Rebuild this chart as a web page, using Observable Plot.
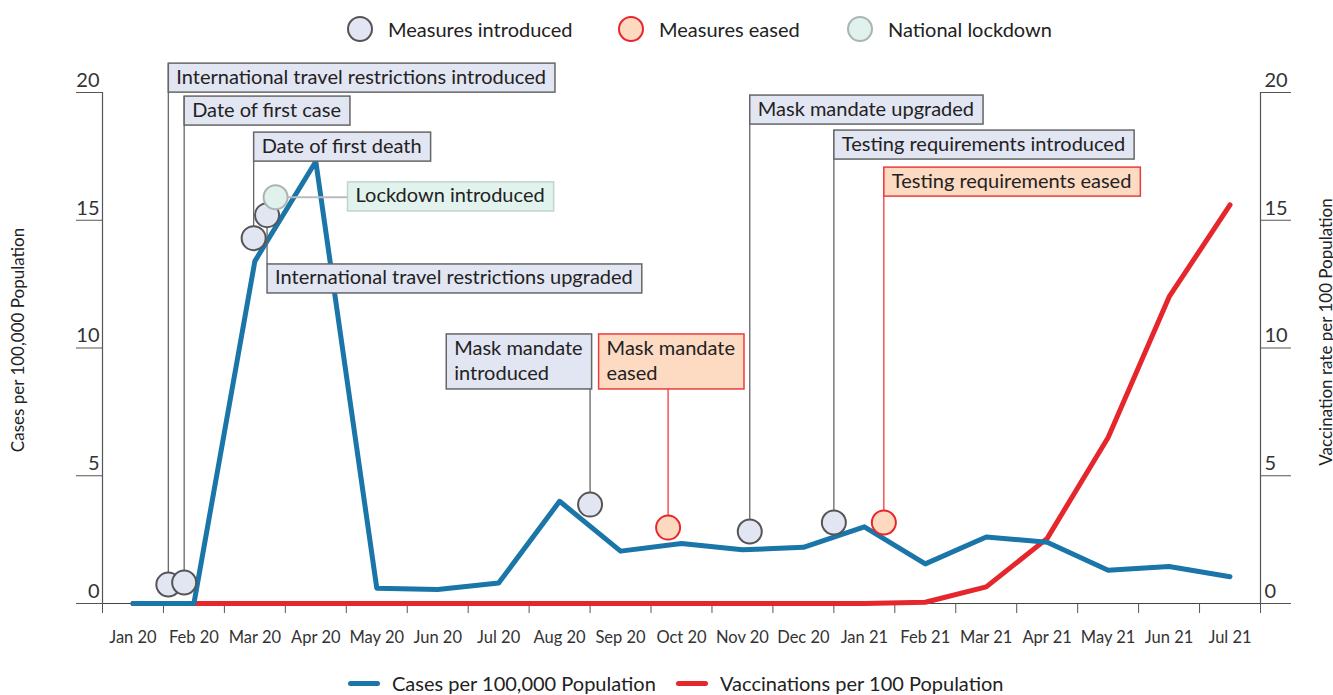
<!DOCTYPE html>
<html><head><meta charset="utf-8">
<script src="https://cdn.jsdelivr.net/npm/d3@7"></script>
<script src="https://cdn.jsdelivr.net/npm/@observablehq/plot@0.6"></script>
<style>
body{margin:0;width:1333px;height:695px;overflow:hidden;background:#fff;font-family:Lato,"Open Sans",sans-serif;color:#222;position:relative}
#chart{position:absolute;left:0;top:56px}
.lg{position:absolute;display:flex;align-items:center;font-size:20px;color:#222;white-space:nowrap;line-height:24px}
.dotsw{width:26px;height:26px;border-radius:50%;border:2px solid;box-sizing:border-box;margin-right:15px}
.linesw{width:32px;height:5px;border-radius:3px;margin-right:12px}
.ytitle{position:absolute;font-size:17px;color:#222;white-space:nowrap;transform:translate(-50%,-50%) rotate(-90deg)}
</style></head>
<body>
<div class="lg" style="left:347px;top:16px"><span class="dotsw" style="background:#e2e5f2;border-color:#555"></span>Measures introduced</div>
<div class="lg" style="left:618px;top:16px"><span class="dotsw" style="background:#fdd9bf;border-color:#e8262b"></span>Measures eased</div>
<div class="lg" style="left:847px;top:16px"><span class="dotsw" style="background:#e1f2ee;border-color:#aab5b2"></span>National lockdown</div>
<div class="ytitle" style="left:17px;top:340px">Cases per 100,000 Population</div>
<div class="ytitle" style="left:1325px;top:332px">Vaccination rate per 100 Population</div>
<div id="chart"></div>
<div class="lg" style="left:348px;top:671px"><span class="linesw" style="background:#1a75a8"></span>Cases per 100,000 Population</div>
<div class="lg" style="left:676px;top:671px"><span class="linesw" style="background:#e5262c"></span>Vaccinations per 100 Population</div>
<script>
const months = ["Jan 20","Feb 20","Mar 20","Apr 20","May 20","Jun 20","Jul 20","Aug 20","Sep 20","Oct 20","Nov 20","Dec 20","Jan 21","Feb 21","Mar 21","Apr 21","May 21","Jun 21","Jul 21"];
const cases = [0,0,13.4,17.3,0.6,0.55,0.8,4.0,2.05,2.35,2.1,2.2,3.0,1.55,2.6,2.4,1.3,1.45,1.05];
const vaccinations = [0,0,0,0,0,0,0,0,0,0,0,0,0,0.05,0.65,2.55,6.5,12.0,15.6];
const yTicks = [0,5,10,15,20];

const eventLabels = ["International travel restrictions introduced","Date of first case","International travel restrictions upgraded","Date of first death","Lockdown introduced","Mask mandate\nintroduced","Mask mandate\neased","Mask mandate upgraded","Testing requirements introduced","Testing requirements eased"];
const eventKinds = ["introduced","introduced","introduced","introduced","lockdown","introduced","eased","introduced","introduced","eased"];
const eventMonth = [1.08,1.34,2.70,2.48,2.84,8.0,9.28,10.62,12.0,12.82];
const eventValue = [0.74,0.82,15.2,14.3,15.9,3.87,2.97,2.82,3.17,3.17];
const labelMonth = [1.08,1.34,2.70,2.48,4.02,5.64,8.14,10.62,12.0,12.82];
const labelValue = [21.13,19.84,13.27,18.43,16.48,10.53,10.53,19.88,18.51,17.06];

const dotFill = {introduced:"#e2e5f2", eased:"#fdd9bf", lockdown:"#e1f2ee"};
const dotStroke = {introduced:"#555", eased:"#e8262b", lockdown:"#aab5b2"};
const leaderStroke = {introduced:"#666", eased:"#ee3b3b", lockdown:"#bbbbbb"};
const boxFill = {introduced:"#e2e5f2", eased:"#fddac2", lockdown:"#e2f3ee"};
const boxStroke = {introduced:"#666", eased:"#ee3b3b", lockdown:"#bcd5cf"};

const caseRows = cases.map((v,i)=>({m:i+0.5, v}));
const vaccRows = vaccinations.map((v,i)=>({m:i+0.5, v}));
const events = eventLabels.map((label,i)=>({label, kind:eventKinds[i], x:eventMonth[i], y:eventValue[i], lx:labelMonth[i], ly:labelValue[i]}));
const vEvents = events.filter(d=>d.kind!=="lockdown");
const hEvents = events.filter(d=>d.kind==="lockdown");

const plot = Plot.plot({
  width:1333, height:600, marginLeft:102, marginRight:73, marginTop:36, marginBottom:53,
  x:{type:"linear", domain:[0,19], label:null},
  y:{domain:[0,20], label:null},
  color:{type:"identity"},
  style:{fontFamily:"Lato, 'Open Sans', sans-serif", color:"#333", background:"transparent", overflow:"visible"},
  marks:[
    Plot.ruleY([0], {stroke:"#444", strokeWidth:1.2}),
    Plot.ruleX([0,19], {y1:0, y2:20, stroke:"#555", strokeWidth:1.2}),
    Plot.axisX(d3.range(0,20), {tickSize:10, tickFormat:()=>"", stroke:"#555", label:null}),
    Plot.axisX(months.map((m,i)=>i+0.5), {tickSize:0, tickPadding:28, tickFormat:d=>months[Math.floor(d)], fontSize:16.5, fill:"#333", label:null}),
    Plot.axisY(yTicks, {anchor:"left", tickSize:26, tickFormat:()=>"", stroke:"#555", label:null}),
    Plot.axisY(yTicks, {anchor:"right", tickSize:30, tickFormat:()=>"", stroke:"#555", label:null}),
    Plot.text(yTicks, {y:d=>d, frameAnchor:"left", textAnchor:"end", dx:-3, dy:-12, fontSize:20, fill:"#333"}),
    Plot.text(yTicks, {y:d=>d, frameAnchor:"right", textAnchor:"start", dx:4, dy:-12, fontSize:20, fill:"#333"}),
    Plot.line(vaccRows, {x:"m", y:"v", stroke:"#e5262c", strokeWidth:5, strokeLinecap:"round", strokeLinejoin:"round"}),
    Plot.line(caseRows, {x:"m", y:"v", stroke:"#1a75a8", strokeWidth:5, strokeLinecap:"round", strokeLinejoin:"round"}),
    Plot.ruleX(vEvents, {x:"x", y1:"y", y2:"ly", stroke:d=>leaderStroke[d.kind], strokeWidth:1.3}),
    Plot.ruleY(hEvents, {y:"y", x1:"x", x2:"lx", stroke:d=>leaderStroke[d.kind], strokeWidth:2}),
    Plot.text(events, {x:"lx", y:"ly", text:"label", textAnchor:"start", lineAnchor:"top", dx:8, dy:2, fontSize:20, lineHeight:1.27, fill:"#222"}),
    Plot.dot(events, {x:"x", y:"y", r:12, fill:d=>dotFill[d.kind], stroke:d=>dotStroke[d.kind], strokeWidth:2})
  ]
});
document.getElementById("chart").append(plot);

// label boxes behind the event label text, sized to the rendered text
const ys = plot.scale("y");
const sr = plot.getBoundingClientRect();
const textGroups = plot.querySelectorAll('g[aria-label="text"]');
const tg = textGroups[textGroups.length - 1];
const NS = "http://www.w3.org/2000/svg";
const boxG = document.createElementNS(NS, "g");
tg.parentNode.insertBefore(boxG, tg);
tg.querySelectorAll("text").forEach((t,i)=>{
  const ev = events[i];
  const r = t.getBoundingClientRect();
  const lines = ev.label.split("\n").length;
  const rect = document.createElementNS(NS, "rect");
  rect.setAttribute("x", r.left - sr.left - 8);
  rect.setAttribute("y", ys.apply(ev.ly));
  rect.setAttribute("width", r.width + 17);
  rect.setAttribute("height", lines === 1 ? 29 : 55);
  rect.setAttribute("fill", boxFill[ev.kind]);
  rect.setAttribute("stroke", boxStroke[ev.kind]);
  rect.setAttribute("stroke-width", 1.5);
  boxG.appendChild(rect);
});
</script>
</body></html>
